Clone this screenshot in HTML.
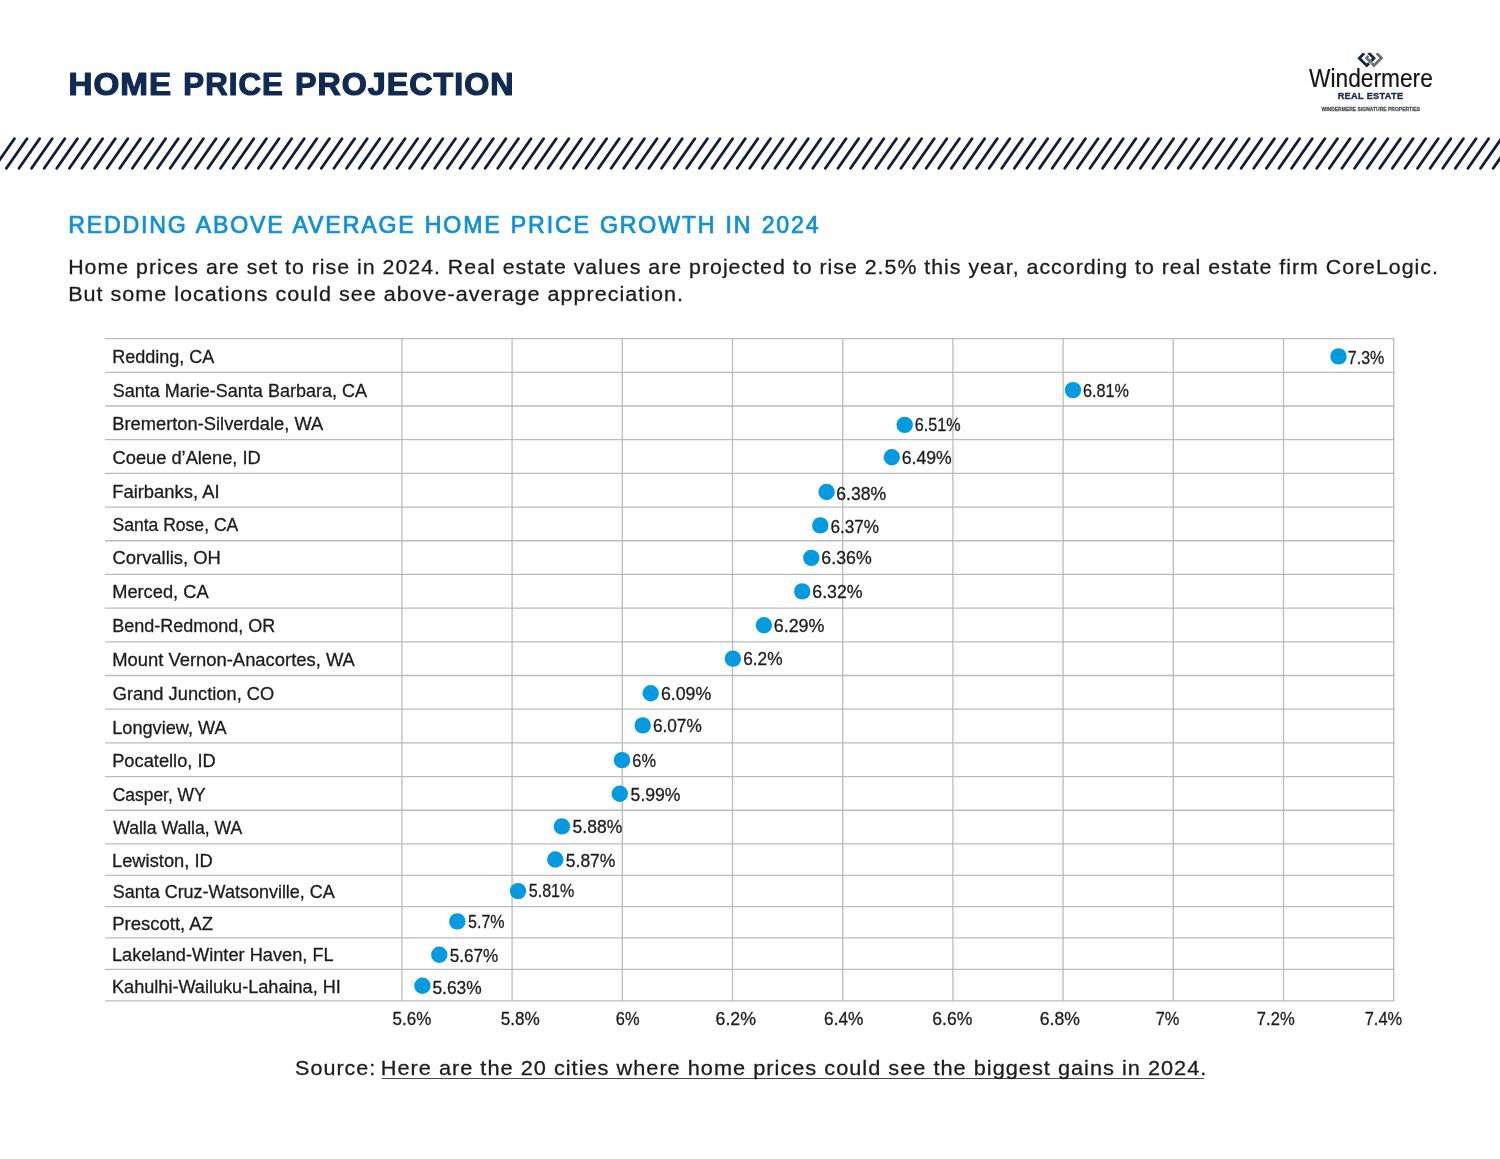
<!DOCTYPE html>
<html><head><meta charset="utf-8"><title>Home Price Projection</title>
<style>
html,body{margin:0;padding:0;background:#fff;}
body{width:1500px;height:1159px;overflow:hidden;font-family:"Liberation Sans",sans-serif;}
svg{display:block;}
svg text{font-family:"Liberation Sans",sans-serif;white-space:pre;}
</style></head><body>
<svg width="1500" height="1159" viewBox="0 0 1500 1159">
<rect width="1500" height="1159" fill="#ffffff"/>
<path d="M-6.20 168.3L14.40 138.7 M6.40 168.3L27.00 138.7 M19.00 168.3L39.60 138.7 M31.60 168.3L52.20 138.7 M44.20 168.3L64.80 138.7 M56.80 168.3L77.40 138.7 M69.40 168.3L90.00 138.7 M82.00 168.3L102.60 138.7 M94.60 168.3L115.20 138.7 M107.20 168.3L127.80 138.7 M119.80 168.3L140.40 138.7 M132.40 168.3L153.00 138.7 M145.00 168.3L165.60 138.7 M157.60 168.3L178.20 138.7 M170.20 168.3L190.80 138.7 M182.80 168.3L203.40 138.7 M195.40 168.3L216.00 138.7 M208.00 168.3L228.60 138.7 M220.60 168.3L241.20 138.7 M233.20 168.3L253.80 138.7 M245.80 168.3L266.40 138.7 M258.40 168.3L279.00 138.7 M271.00 168.3L291.60 138.7 M283.60 168.3L304.20 138.7 M296.20 168.3L316.80 138.7 M308.80 168.3L329.40 138.7 M321.40 168.3L342.00 138.7 M334.00 168.3L354.60 138.7 M346.60 168.3L367.20 138.7 M359.20 168.3L379.80 138.7 M371.80 168.3L392.40 138.7 M384.40 168.3L405.00 138.7 M397.00 168.3L417.60 138.7 M409.60 168.3L430.20 138.7 M422.20 168.3L442.80 138.7 M434.80 168.3L455.40 138.7 M447.40 168.3L468.00 138.7 M460.00 168.3L480.60 138.7 M472.60 168.3L493.20 138.7 M485.20 168.3L505.80 138.7 M497.80 168.3L518.40 138.7 M510.40 168.3L531.00 138.7 M523.00 168.3L543.60 138.7 M535.60 168.3L556.20 138.7 M548.20 168.3L568.80 138.7 M560.80 168.3L581.40 138.7 M573.40 168.3L594.00 138.7 M586.00 168.3L606.60 138.7 M598.60 168.3L619.20 138.7 M611.20 168.3L631.80 138.7 M623.80 168.3L644.40 138.7 M636.40 168.3L657.00 138.7 M649.00 168.3L669.60 138.7 M661.60 168.3L682.20 138.7 M674.20 168.3L694.80 138.7 M686.80 168.3L707.40 138.7 M699.40 168.3L720.00 138.7 M712.00 168.3L732.60 138.7 M724.60 168.3L745.20 138.7 M737.20 168.3L757.80 138.7 M749.80 168.3L770.40 138.7 M762.40 168.3L783.00 138.7 M775.00 168.3L795.60 138.7 M787.60 168.3L808.20 138.7 M800.20 168.3L820.80 138.7 M812.80 168.3L833.40 138.7 M825.40 168.3L846.00 138.7 M838.00 168.3L858.60 138.7 M850.60 168.3L871.20 138.7 M863.20 168.3L883.80 138.7 M875.80 168.3L896.40 138.7 M888.40 168.3L909.00 138.7 M901.00 168.3L921.60 138.7 M913.60 168.3L934.20 138.7 M926.20 168.3L946.80 138.7 M938.80 168.3L959.40 138.7 M951.40 168.3L972.00 138.7 M964.00 168.3L984.60 138.7 M976.60 168.3L997.20 138.7 M989.20 168.3L1009.80 138.7 M1001.80 168.3L1022.40 138.7 M1014.40 168.3L1035.00 138.7 M1027.00 168.3L1047.60 138.7 M1039.60 168.3L1060.20 138.7 M1052.20 168.3L1072.80 138.7 M1064.80 168.3L1085.40 138.7 M1077.40 168.3L1098.00 138.7 M1090.00 168.3L1110.60 138.7 M1102.60 168.3L1123.20 138.7 M1115.20 168.3L1135.80 138.7 M1127.80 168.3L1148.40 138.7 M1140.40 168.3L1161.00 138.7 M1153.00 168.3L1173.60 138.7 M1165.60 168.3L1186.20 138.7 M1178.20 168.3L1198.80 138.7 M1190.80 168.3L1211.40 138.7 M1203.40 168.3L1224.00 138.7 M1216.00 168.3L1236.60 138.7 M1228.60 168.3L1249.20 138.7 M1241.20 168.3L1261.80 138.7 M1253.80 168.3L1274.40 138.7 M1266.40 168.3L1287.00 138.7 M1279.00 168.3L1299.60 138.7 M1291.60 168.3L1312.20 138.7 M1304.20 168.3L1324.80 138.7 M1316.80 168.3L1337.40 138.7 M1329.40 168.3L1350.00 138.7 M1342.00 168.3L1362.60 138.7 M1354.60 168.3L1375.20 138.7 M1367.20 168.3L1387.80 138.7 M1379.80 168.3L1400.40 138.7 M1392.40 168.3L1413.00 138.7 M1405.00 168.3L1425.60 138.7 M1417.60 168.3L1438.20 138.7 M1430.20 168.3L1450.80 138.7 M1442.80 168.3L1463.40 138.7 M1455.40 168.3L1476.00 138.7 M1468.00 168.3L1488.60 138.7 M1480.60 168.3L1501.20 138.7 M1493.20 168.3L1513.80 138.7 M1505.80 168.3L1526.40 138.7" stroke="#101d3b" stroke-width="2.8" stroke-linecap="round" fill="none"/>
<g stroke="#bbbbbb" stroke-width="1.3" fill="none">
<line x1="105" y1="338.60" x2="1394.35" y2="338.60"/>
<line x1="105" y1="372.29" x2="1394.35" y2="372.29"/>
<line x1="105" y1="405.98" x2="1394.35" y2="405.98"/>
<line x1="105" y1="439.67" x2="1394.35" y2="439.67"/>
<line x1="105" y1="473.36" x2="1394.35" y2="473.36"/>
<line x1="105" y1="507.05" x2="1394.35" y2="507.05"/>
<line x1="105" y1="540.74" x2="1394.35" y2="540.74"/>
<line x1="105" y1="574.43" x2="1394.35" y2="574.43"/>
<line x1="105" y1="608.12" x2="1394.35" y2="608.12"/>
<line x1="105" y1="641.81" x2="1394.35" y2="641.81"/>
<line x1="105" y1="675.50" x2="1394.35" y2="675.50"/>
<line x1="105" y1="709.19" x2="1394.35" y2="709.19"/>
<line x1="105" y1="742.88" x2="1394.35" y2="742.88"/>
<line x1="105" y1="776.57" x2="1394.35" y2="776.57"/>
<line x1="105" y1="810.26" x2="1394.35" y2="810.26"/>
<line x1="105" y1="843.90" x2="1394.35" y2="843.90"/>
<line x1="105" y1="875.30" x2="1394.35" y2="875.30"/>
<line x1="105" y1="906.60" x2="1394.35" y2="906.60"/>
<line x1="105" y1="937.90" x2="1394.35" y2="937.90"/>
<line x1="105" y1="969.40" x2="1394.35" y2="969.40"/>
<line x1="105" y1="1000.90" x2="1394.35" y2="1000.90"/>
<line x1="401.90" y1="338.60" x2="401.90" y2="1000.90"/>
<line x1="512.10" y1="338.60" x2="512.10" y2="1000.90"/>
<line x1="622.30" y1="338.60" x2="622.30" y2="1000.90"/>
<line x1="732.50" y1="338.60" x2="732.50" y2="1000.90"/>
<line x1="842.70" y1="338.60" x2="842.70" y2="1000.90"/>
<line x1="952.90" y1="338.60" x2="952.90" y2="1000.90"/>
<line x1="1063.10" y1="338.60" x2="1063.10" y2="1000.90"/>
<line x1="1173.30" y1="338.60" x2="1173.30" y2="1000.90"/>
<line x1="1283.50" y1="338.60" x2="1283.50" y2="1000.90"/>
<line x1="1393.70" y1="338.60" x2="1393.70" y2="1000.90"/>
</g>
<g fill="#039adf">
<circle cx="1338.50" cy="356.40" r="8.2"/>
<circle cx="1073.00" cy="390.10" r="8.2"/>
<circle cx="904.70" cy="424.85" r="8.2"/>
<circle cx="891.80" cy="457.20" r="8.2"/>
<circle cx="826.60" cy="492.00" r="8.2"/>
<circle cx="820.30" cy="525.40" r="8.2"/>
<circle cx="811.30" cy="557.85" r="8.2"/>
<circle cx="802.20" cy="591.40" r="8.2"/>
<circle cx="763.90" cy="625.30" r="8.2"/>
<circle cx="732.90" cy="658.60" r="8.2"/>
<circle cx="650.70" cy="693.30" r="8.2"/>
<circle cx="642.70" cy="725.40" r="8.2"/>
<circle cx="622.00" cy="760.10" r="8.2"/>
<circle cx="619.80" cy="793.80" r="8.2"/>
<circle cx="561.90" cy="826.40" r="8.2"/>
<circle cx="555.30" cy="859.50" r="8.2"/>
<circle cx="518.00" cy="891.10" r="8.2"/>
<circle cx="457.30" cy="921.40" r="8.2"/>
<circle cx="439.30" cy="954.75" r="8.2"/>
<circle cx="422.40" cy="985.80" r="8.2"/>
</g>
<clipPath id="lc"><rect x="1350" y="52.8" width="40" height="20"/></clipPath>
<g id="logo" fill="none" stroke-width="2.8" stroke-linejoin="miter" stroke-linecap="butt" clip-path="url(#lc)">
<path d="M1368.2 55.8L1366.6 58L1371.4 62.8" stroke="#6e6f73"/>
<path d="M1364.2 53.3L1359.3 58.2L1366.7 65.6L1369.1 63.2" stroke="#10294c"/>
<path d="M1368.4 52.6L1374 58.2L1371.4 60.8" stroke="#10294c"/>
<path d="M1376.6 53.2L1381.4 58L1374 65.4L1371.6 63" stroke="#6e6f73"/>
</g>
<line x1="381.7" y1="1078.5" x2="1204" y2="1078.5" stroke="#4a4a4a" stroke-width="1"/>
<g opacity="0.999">
<text transform="translate(68.52,95.00) scale(1.0862,1)" font-size="30.6" letter-spacing="0.921" fill="#112a52" font-weight="bold" stroke="#112a52" stroke-width="1.2" stroke-linejoin="round" paint-order="stroke">HOME</text>
<text transform="translate(183.34,95.00) scale(1.0205,1)" font-size="30.6" letter-spacing="0.980" fill="#112a52" font-weight="bold" stroke="#112a52" stroke-width="1.2" stroke-linejoin="round" paint-order="stroke">PRICE</text>
<text transform="translate(294.88,95.00) scale(1.0549,1)" font-size="30.6" letter-spacing="0.948" fill="#112a52" font-weight="bold" stroke="#112a52" stroke-width="1.2" stroke-linejoin="round" paint-order="stroke">PROJECTION</text>
<text transform="translate(68.15,233.00) scale(0.9510,1)" font-size="24.4" letter-spacing="1.893" word-spacing="1.052" fill="#0f90d3" stroke="#0f90d3" stroke-width="0.75" stroke-linejoin="round" paint-order="stroke">REDDING ABOVE AVERAGE HOME PRICE GROWTH IN 2024</text>
<text transform="translate(68.22,274.00) scale(1.0167,1)" font-size="21.0" letter-spacing="0.984" fill="#1c1c1c" stroke="#1c1c1c" stroke-width="0.3" stroke-linejoin="round" paint-order="stroke">Home prices are set to rise in 2024. Real estate values are projected to rise 2.5% this year, according to real estate firm CoreLogic.</text>
<text transform="translate(68.20,301.00) scale(1.0275,1)" font-size="21.0" letter-spacing="0.973" fill="#1c1c1c" stroke="#1c1c1c" stroke-width="0.3" stroke-linejoin="round" paint-order="stroke">But some locations could see above-average appreciation.</text>
<text transform="translate(295.08,1075.00) scale(1.0267,1)" font-size="21.0" letter-spacing="0.974" fill="#1c1c1c" stroke="#1c1c1c" stroke-width="0.3" stroke-linejoin="round" paint-order="stroke">Source:</text>
<text transform="translate(380.69,1075.00) scale(1.0362,1)" font-size="21.0" letter-spacing="0.965" fill="#1c1c1c" stroke="#1c1c1c" stroke-width="0.3" stroke-linejoin="round" paint-order="stroke">Here are the 20 cities where home prices could see the biggest gains in 2024.</text>
<text transform="translate(112.20,362.60) scale(1.0015,1)" font-size="18.0" fill="#1c1c1c" stroke="#1c1c1c" stroke-width="0.3" stroke-linejoin="round" paint-order="stroke">Redding, CA</text>
<text transform="translate(112.65,396.60) scale(1.0019,1)" font-size="18.0" fill="#1c1c1c" stroke="#1c1c1c" stroke-width="0.3" stroke-linejoin="round" paint-order="stroke">Santa Marie-Santa Barbara, CA</text>
<text transform="translate(112.17,430.20) scale(1.0185,1)" font-size="18.0" fill="#1c1c1c" stroke="#1c1c1c" stroke-width="0.3" stroke-linejoin="round" paint-order="stroke">Bremerton-Silverdale, WA</text>
<text transform="translate(112.54,463.80) scale(1.0149,1)" font-size="18.0" fill="#1c1c1c" stroke="#1c1c1c" stroke-width="0.3" stroke-linejoin="round" paint-order="stroke">Coeue d’Alene, ID</text>
<text transform="translate(112.17,497.60) scale(1.0230,1)" font-size="18.0" fill="#1c1c1c" stroke="#1c1c1c" stroke-width="0.3" stroke-linejoin="round" paint-order="stroke">Fairbanks, AI</text>
<text transform="translate(112.42,530.80) scale(0.9761,1)" font-size="18.0" fill="#1c1c1c" stroke="#1c1c1c" stroke-width="0.3" stroke-linejoin="round" paint-order="stroke">Santa Rose, CA</text>
<text transform="translate(112.53,564.40) scale(1.0235,1)" font-size="18.0" fill="#1c1c1c" stroke="#1c1c1c" stroke-width="0.3" stroke-linejoin="round" paint-order="stroke">Corvallis, OH</text>
<text transform="translate(112.18,598.20) scale(1.0147,1)" font-size="18.0" fill="#1c1c1c" stroke="#1c1c1c" stroke-width="0.3" stroke-linejoin="round" paint-order="stroke">Merced, CA</text>
<text transform="translate(112.20,631.80) scale(1.0007,1)" font-size="18.0" fill="#1c1c1c" stroke="#1c1c1c" stroke-width="0.3" stroke-linejoin="round" paint-order="stroke">Bend-Redmond, OR</text>
<text transform="translate(112.17,665.60) scale(1.0238,1)" font-size="18.0" fill="#1c1c1c" stroke="#1c1c1c" stroke-width="0.3" stroke-linejoin="round" paint-order="stroke">Mount Vernon-Anacortes, WA</text>
<text transform="translate(112.73,699.80) scale(1.0164,1)" font-size="18.0" fill="#1c1c1c" stroke="#1c1c1c" stroke-width="0.3" stroke-linejoin="round" paint-order="stroke">Grand Junction, CO</text>
<text transform="translate(112.19,733.60) scale(1.0091,1)" font-size="18.0" fill="#1c1c1c" stroke="#1c1c1c" stroke-width="0.3" stroke-linejoin="round" paint-order="stroke">Longview, WA</text>
<text transform="translate(112.18,767.20) scale(1.0155,1)" font-size="18.0" fill="#1c1c1c" stroke="#1c1c1c" stroke-width="0.3" stroke-linejoin="round" paint-order="stroke">Pocatello, ID</text>
<text transform="translate(112.78,800.80) scale(0.9676,1)" font-size="18.0" fill="#1c1c1c" stroke="#1c1c1c" stroke-width="0.3" stroke-linejoin="round" paint-order="stroke">Casper, WY</text>
<text transform="translate(113.20,834.20) scale(0.9787,1)" font-size="18.0" fill="#1c1c1c" stroke="#1c1c1c" stroke-width="0.3" stroke-linejoin="round" paint-order="stroke">Walla Walla, WA</text>
<text transform="translate(111.97,867.20) scale(1.0181,1)" font-size="18.0" fill="#1c1c1c" stroke="#1c1c1c" stroke-width="0.3" stroke-linejoin="round" paint-order="stroke">Lewiston, ID</text>
<text transform="translate(112.65,898.20) scale(0.9998,1)" font-size="18.0" fill="#1c1c1c" stroke="#1c1c1c" stroke-width="0.3" stroke-linejoin="round" paint-order="stroke">Santa Cruz-Watsonville, CA</text>
<text transform="translate(112.16,929.80) scale(1.0297,1)" font-size="18.0" fill="#1c1c1c" stroke="#1c1c1c" stroke-width="0.3" stroke-linejoin="round" paint-order="stroke">Prescott, AZ</text>
<text transform="translate(111.98,961.20) scale(1.0122,1)" font-size="18.0" fill="#1c1c1c" stroke="#1c1c1c" stroke-width="0.3" stroke-linejoin="round" paint-order="stroke">Lakeland-Winter Haven, FL</text>
<text transform="translate(111.99,992.60) scale(1.0069,1)" font-size="18.0" fill="#1c1c1c" stroke="#1c1c1c" stroke-width="0.3" stroke-linejoin="round" paint-order="stroke">Kahulhi-Wailuku-Lahaina, HI</text>
<text transform="translate(1347.84,363.65) scale(0.8937,1)" font-size="17.9" fill="#1c1c1c" stroke="#1c1c1c" stroke-width="0.3" stroke-linejoin="round" paint-order="stroke">7.3%</text>
<text transform="translate(1083.03,396.65) scale(0.9048,1)" font-size="17.9" fill="#1c1c1c" stroke="#1c1c1c" stroke-width="0.3" stroke-linejoin="round" paint-order="stroke">6.81%</text>
<text transform="translate(914.83,431.15) scale(0.9048,1)" font-size="17.9" fill="#1c1c1c" stroke="#1c1c1c" stroke-width="0.3" stroke-linejoin="round" paint-order="stroke">6.51%</text>
<text transform="translate(901.76,463.65) scale(0.9860,1)" font-size="17.9" fill="#1c1c1c" stroke="#1c1c1c" stroke-width="0.3" stroke-linejoin="round" paint-order="stroke">6.49%</text>
<text transform="translate(836.26,499.75) scale(0.9860,1)" font-size="17.9" fill="#1c1c1c" stroke="#1c1c1c" stroke-width="0.3" stroke-linejoin="round" paint-order="stroke">6.38%</text>
<text transform="translate(830.49,532.85) scale(0.9577,1)" font-size="17.9" fill="#1c1c1c" stroke="#1c1c1c" stroke-width="0.3" stroke-linejoin="round" paint-order="stroke">6.37%</text>
<text transform="translate(821.36,563.85) scale(0.9921,1)" font-size="17.9" fill="#1c1c1c" stroke="#1c1c1c" stroke-width="0.3" stroke-linejoin="round" paint-order="stroke">6.36%</text>
<text transform="translate(812.26,597.65) scale(0.9921,1)" font-size="17.9" fill="#1c1c1c" stroke="#1c1c1c" stroke-width="0.3" stroke-linejoin="round" paint-order="stroke">6.32%</text>
<text transform="translate(773.75,631.75) scale(0.9993,1)" font-size="17.9" fill="#1c1c1c" stroke="#1c1c1c" stroke-width="0.3" stroke-linejoin="round" paint-order="stroke">6.29%</text>
<text transform="translate(743.18,664.95) scale(0.9661,1)" font-size="17.9" fill="#1c1c1c" stroke="#1c1c1c" stroke-width="0.3" stroke-linejoin="round" paint-order="stroke">6.2%</text>
<text transform="translate(660.96,699.75) scale(0.9921,1)" font-size="17.9" fill="#1c1c1c" stroke="#1c1c1c" stroke-width="0.3" stroke-linejoin="round" paint-order="stroke">6.09%</text>
<text transform="translate(652.88,732.05) scale(0.9637,1)" font-size="17.9" fill="#1c1c1c" stroke="#1c1c1c" stroke-width="0.3" stroke-linejoin="round" paint-order="stroke">6.07%</text>
<text transform="translate(632.33,766.85) scale(0.9137,1)" font-size="17.9" fill="#1c1c1c" stroke="#1c1c1c" stroke-width="0.3" stroke-linejoin="round" paint-order="stroke">6%</text>
<text transform="translate(630.61,800.65) scale(0.9831,1)" font-size="17.9" fill="#1c1c1c" stroke="#1c1c1c" stroke-width="0.3" stroke-linejoin="round" paint-order="stroke">5.99%</text>
<text transform="translate(572.61,833.25) scale(0.9790,1)" font-size="17.9" fill="#1c1c1c" stroke="#1c1c1c" stroke-width="0.3" stroke-linejoin="round" paint-order="stroke">5.88%</text>
<text transform="translate(565.82,866.95) scale(0.9770,1)" font-size="17.9" fill="#1c1c1c" stroke="#1c1c1c" stroke-width="0.3" stroke-linejoin="round" paint-order="stroke">5.87%</text>
<text transform="translate(528.77,897.15) scale(0.8981,1)" font-size="17.9" fill="#1c1c1c" stroke="#1c1c1c" stroke-width="0.3" stroke-linejoin="round" paint-order="stroke">5.81%</text>
<text transform="translate(468.07,927.95) scale(0.8966,1)" font-size="17.9" fill="#1c1c1c" stroke="#1c1c1c" stroke-width="0.3" stroke-linejoin="round" paint-order="stroke">5.7%</text>
<text transform="translate(449.73,962.45) scale(0.9588,1)" font-size="17.9" fill="#1c1c1c" stroke="#1c1c1c" stroke-width="0.3" stroke-linejoin="round" paint-order="stroke">5.67%</text>
<text transform="translate(432.42,993.85) scale(0.9709,1)" font-size="17.9" fill="#1c1c1c" stroke="#1c1c1c" stroke-width="0.3" stroke-linejoin="round" paint-order="stroke">5.63%</text>
<text transform="translate(392.53,1025.00) scale(0.9511,1)" font-size="17.9" fill="#1c1c1c" stroke="#1c1c1c" stroke-width="0.3" stroke-linejoin="round" paint-order="stroke">5.6%</text>
<text transform="translate(500.63,1025.00) scale(0.9587,1)" font-size="17.9" fill="#1c1c1c" stroke="#1c1c1c" stroke-width="0.3" stroke-linejoin="round" paint-order="stroke">5.8%</text>
<text transform="translate(615.87,1025.00) scale(0.9179,1)" font-size="17.9" fill="#1c1c1c" stroke="#1c1c1c" stroke-width="0.3" stroke-linejoin="round" paint-order="stroke">6%</text>
<text transform="translate(715.56,1025.00) scale(0.9916,1)" font-size="17.9" fill="#1c1c1c" stroke="#1c1c1c" stroke-width="0.3" stroke-linejoin="round" paint-order="stroke">6.2%</text>
<text transform="translate(824.08,1025.00) scale(0.9636,1)" font-size="17.9" fill="#1c1c1c" stroke="#1c1c1c" stroke-width="0.3" stroke-linejoin="round" paint-order="stroke">6.4%</text>
<text transform="translate(932.26,1025.00) scale(0.9840,1)" font-size="17.9" fill="#1c1c1c" stroke="#1c1c1c" stroke-width="0.3" stroke-linejoin="round" paint-order="stroke">6.6%</text>
<text transform="translate(1039.76,1025.00) scale(0.9853,1)" font-size="17.9" fill="#1c1c1c" stroke="#1c1c1c" stroke-width="0.3" stroke-linejoin="round" paint-order="stroke">6.8%</text>
<text transform="translate(1155.68,1025.00) scale(0.9139,1)" font-size="17.9" fill="#1c1c1c" stroke="#1c1c1c" stroke-width="0.3" stroke-linejoin="round" paint-order="stroke">7%</text>
<text transform="translate(1256.86,1025.00) scale(0.9267,1)" font-size="17.9" fill="#1c1c1c" stroke="#1c1c1c" stroke-width="0.3" stroke-linejoin="round" paint-order="stroke">7.2%</text>
<text transform="translate(1364.67,1025.00) scale(0.9190,1)" font-size="17.9" fill="#1c1c1c" stroke="#1c1c1c" stroke-width="0.3" stroke-linejoin="round" paint-order="stroke">7.4%</text>
<text transform="translate(1309.11,86.70) scale(0.9085,1)" font-size="25.0" fill="#141414" stroke="#141414" stroke-width="0.2" stroke-linejoin="round" paint-order="stroke">Windermere</text>
<text transform="translate(1337.65,99.00) scale(1.0026,1)" font-size="9.2" letter-spacing="0.299" fill="#1b2c4e" font-weight="bold" stroke="#1b2c4e" stroke-width="0.4" stroke-linejoin="round" paint-order="stroke">REAL ESTATE</text>
<text transform="translate(1321.45,111.00) scale(0.8770,1)" font-size="5.7" fill="#505155" font-weight="bold" stroke="#505155" stroke-width="0.3" stroke-linejoin="round" paint-order="stroke">WINDERMERE SIGNATURE PROPERTIES</text>
</g>
</svg>
</body></html>
